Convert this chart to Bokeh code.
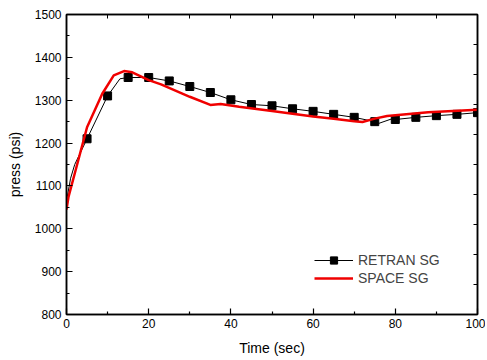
from bokeh.plotting import figure
from bokeh.models import LinearAxis, FixedTicker, Legend, LegendItem, Range1d
from bokeh.embed import file_html
from bokeh.resources import INLINE

# RETRAN SG line (time, pressure)
retran_t = [0, 1, 2, 5, 10, 13, 15, 20, 25, 30, 35, 40, 45, 50, 55, 60, 65, 70, 75, 76, 79, 80, 85, 90, 95, 100]
retran_p = [1065, 1118, 1150, 1210, 1310, 1350, 1353, 1353, 1345, 1332, 1318, 1301, 1290, 1287, 1280, 1274, 1267, 1260, 1250, 1246, 1256, 1255, 1260, 1264, 1267, 1271]
# RETRAN markers
mark_t = [5, 10, 15, 20, 25, 30, 35, 40, 45, 50, 55, 60, 65, 70, 75, 80, 85, 90, 95, 100]
mark_p = [1210, 1310, 1353, 1353, 1345, 1332, 1318, 1301, 1290, 1287, 1280, 1274, 1267, 1260, 1250, 1255, 1260, 1264, 1267, 1271]
# SPACE SG line
space_t = [0, 0.5, 2.2, 5, 8.7, 11.5, 14, 16, 20, 23, 30, 35, 37.5, 42, 50, 60, 65, 70, 72, 75, 78, 80, 88, 100]
space_p = [1045, 1075, 1136, 1237, 1315, 1358, 1368, 1365, 1347, 1337, 1308, 1289, 1291, 1285, 1275, 1262, 1257, 1251, 1249, 1257, 1263, 1265, 1272, 1278]

x_ticks = [0, 20, 40, 60, 80, 100]
y_ticks = [800, 900, 1000, 1100, 1200, 1300, 1400, 1500]
top_ticks = [10, 20, 30, 40, 50, 60, 70, 80, 90]
right_ticks = [870, 940, 1010, 1080, 1150, 1220, 1290, 1360, 1430]

FONT = "Liberation Sans"

p = figure(frame_width=411, frame_height=300,
           x_range=Range1d(0, 100), y_range=Range1d(800, 1500),
           output_backend="svg", toolbar_location=None,
           min_border_left=66, min_border_top=14, min_border_right=8, min_border_bottom=44)
p.grid.visible = False
p.outline_line_color = "black"
p.outline_line_width = 1.5
p.background_fill_color = "white"
p.border_fill_color = "white"

for ax in (p.xaxis[0], p.yaxis[0]):
    ax.axis_line_width = 1.5
    ax.major_tick_in = 6
    ax.major_tick_out = 0
    ax.minor_tick_in = 3
    ax.minor_tick_out = 0
    ax.major_tick_line_width = 1.2
    ax.minor_tick_line_width = 1.2
    ax.major_label_text_font = FONT
    ax.major_label_text_font_size = "12px"
    ax.major_label_text_color = "black"
    ax.axis_label_text_font = FONT
    ax.axis_label_text_font_size = "14px"
    ax.axis_label_text_font_style = "normal"
    ax.axis_label_text_color = "black"

p.xaxis[0].ticker = FixedTicker(ticks=x_ticks, minor_ticks=[10, 30, 50, 70, 90])
p.yaxis[0].ticker = FixedTicker(ticks=y_ticks, minor_ticks=[850, 950, 1050, 1150, 1250, 1350, 1450])
p.xaxis[0].axis_label = "Time (sec)"
p.yaxis[0].axis_label = "press (psi)"
p.xaxis[0].major_label_standoff = 4
p.yaxis[0].major_label_standoff = 5
p.xaxis[0].axis_label_standoff = 9
p.yaxis[0].axis_label_standoff = 9

top = LinearAxis(ticker=FixedTicker(ticks=top_ticks, minor_ticks=[]),
                 major_label_overrides={t: "" for t in top_ticks},
                 major_tick_in=4, major_tick_out=0,
                 minor_tick_in=0, minor_tick_out=0, axis_line_width=1.5, major_label_standoff=0)
right = LinearAxis(ticker=FixedTicker(ticks=right_ticks, minor_ticks=[]),
                   major_label_overrides={t: "" for t in right_ticks},
                   major_tick_in=4, major_tick_out=0,
                   minor_tick_in=0, minor_tick_out=0, axis_line_width=1.5, major_label_standoff=0)
p.add_layout(top, "above")
p.add_layout(right, "right")

r_line = p.line(retran_t, retran_p, line_color="black", line_width=1)
r_mark = p.scatter(mark_t, mark_p, marker="square", size=8, fill_color="black", line_color="black")
s_line = p.line(space_t, space_p, line_color="#f00000", line_width=2.5)

legend = Legend(items=[LegendItem(label="RETRAN SG", renderers=[r_line, r_mark]),
                       LegendItem(label="SPACE SG", renderers=[s_line])],
                location=(248, 27), padding=0, margin=0, spacing=0,
                glyph_width=39, glyph_height=18, label_height=18, label_standoff=5,
                label_text_font=FONT, label_text_font_size="14px",
                border_line_alpha=0, background_fill_alpha=0)
p.add_layout(legend)

open("out.html", "w").write(file_html(p, INLINE))
